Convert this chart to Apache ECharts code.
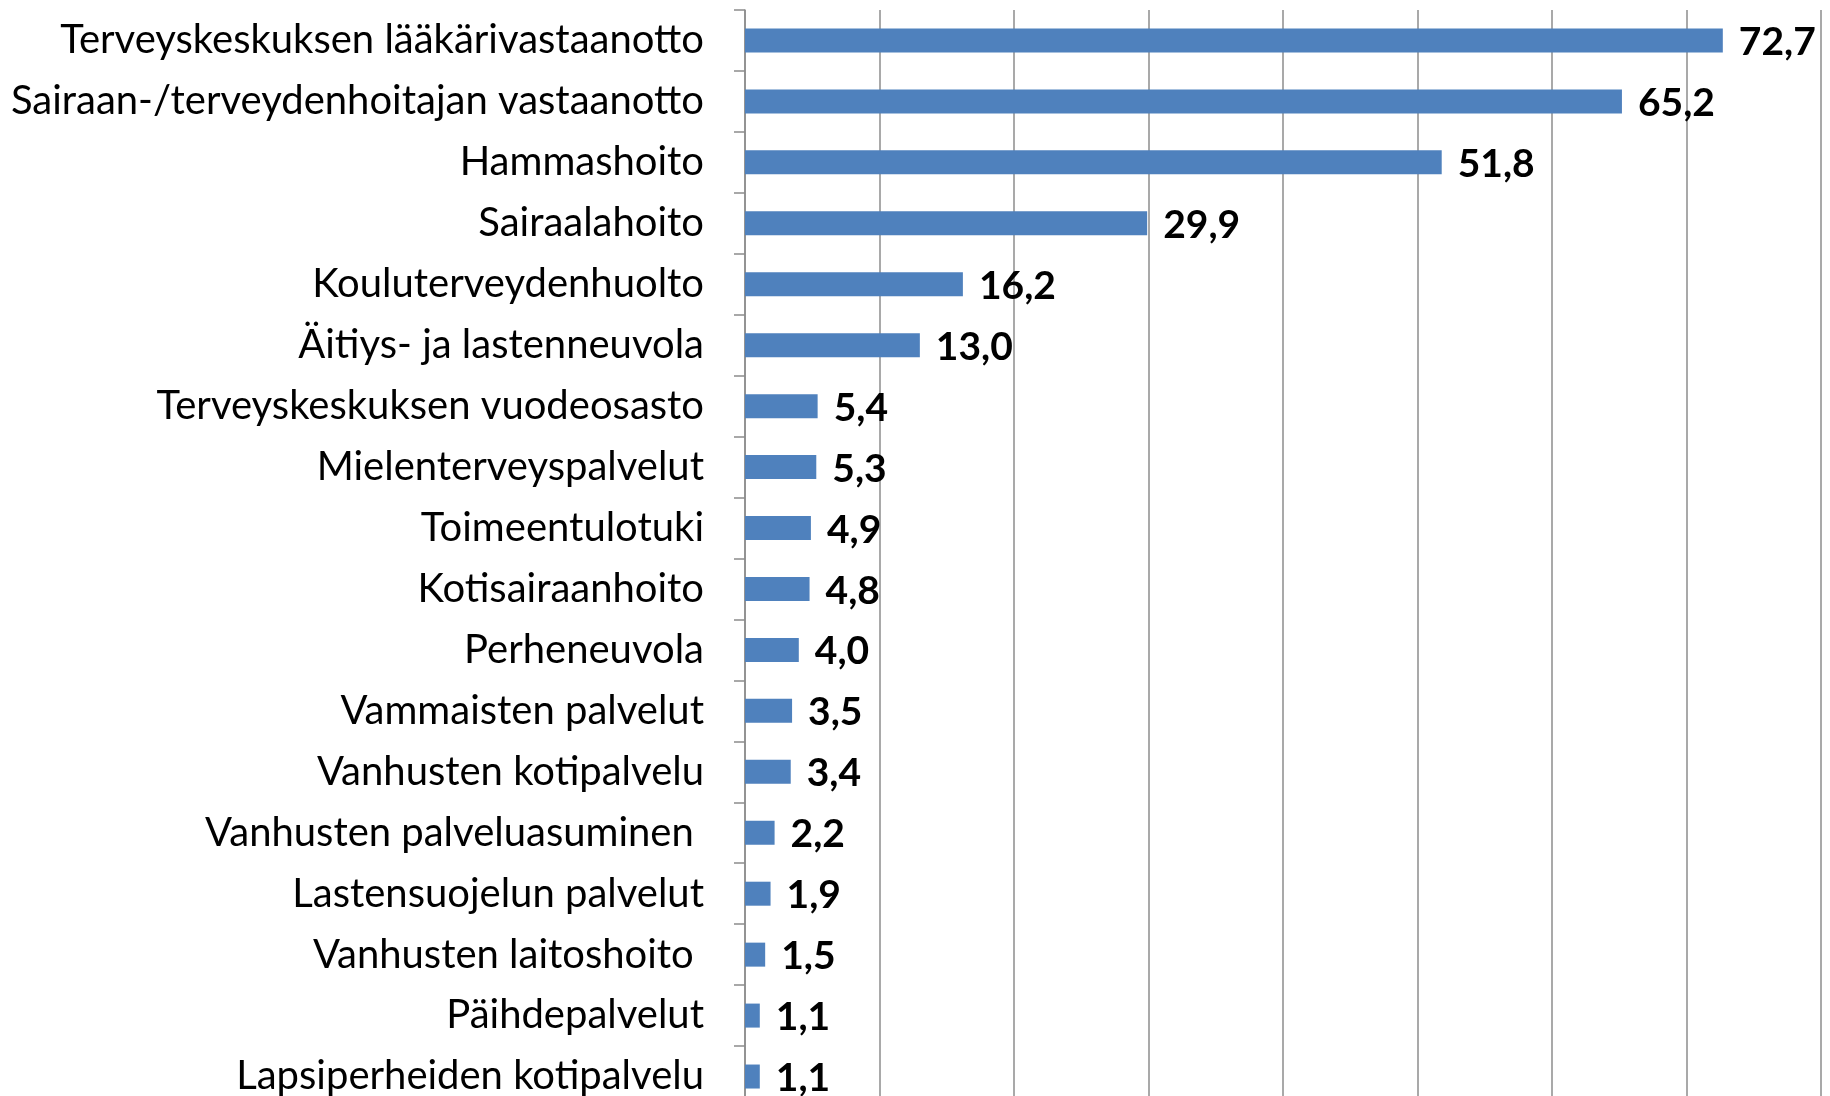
<!DOCTYPE html>
<html>
<head>
<meta charset="utf-8">
<script src="https://cdn.jsdelivr.net/npm/echarts@6/dist/echarts.min.js"></script>
<style>
  html, body { margin: 0; padding: 0; background: #fff; overflow: hidden; }
  /* kuvio jatkuu alareunan yli kuten alkuperäisessä */
  #chart { width: 1830px; height: 1107px; }
</style>
</head>
<body>
<div id="chart"></div>
<script>
var chart = echarts.init(document.getElementById('chart'));

// palvelut ylhäältä alas
var categories = [
    'Terveyskeskuksen lääkärivastaanotto',
    'Sairaan-/terveydenhoitajan vastaanotto',
    'Hammashoito',
    'Sairaalahoito',
    'Kouluterveydenhuolto',
    'Äitiys- ja lastenneuvola',
    'Terveyskeskuksen vuodeosasto',
    'Mielenterveyspalvelut',
    'Toimeentulotuki',
    'Kotisairaanhoito',
    'Perheneuvola',
    'Vammaisten palvelut',
    'Vanhusten kotipalvelu',
    'Vanhusten palveluasuminen ',
    'Lastensuojelun palvelut',
    'Vanhusten laitoshoito ',
    'Päihdepalvelut',
    'Lapsiperheiden kotipalvelu'
];
var values = [72.7, 65.2, 51.8, 29.9, 16.2, 13.0, 5.4, 5.3, 4.9, 4.8, 4.0, 3.5, 3.4, 2.2, 1.9, 1.5, 1.1, 1.1];

var option = {
    animation: false,
    grid: {
        left: 745,
        right: 9,
        top: 10,
        bottom: 0
    },
    xAxis: {
        type: 'value',
        min: 0,
        max: 80,
        interval: 10,
        axisLabel: { show: false },
        axisLine: { show: false },
        axisTick: { show: false },
        splitLine: {
            show: true,
            lineStyle: { color: '#8c8c8c', width: 1.5 }
        }
    },
    yAxis: {
        type: 'category',
        inverse: true,
        data: categories,
        axisLine: {
            show: true,
            lineStyle: { color: '#8c8c8c', width: 1.5 }
        },
        axisTick: {
            show: true,
            length: 11,
            lineStyle: { color: '#8c8c8c', width: 1.5 }
        },
        axisLabel: {
            margin: 41,
            fontFamily: 'Lato',
            fontSize: 40,
            color: '#000'
        }
    },
    series: [{
        type: 'bar',
        data: values,
        barWidth: 24,
        itemStyle: { color: '#4f81bd' },
        label: {
            show: true,
            position: 'right',
            distance: 16,
            offset: [0, 2],
            fontFamily: 'Lato',
            fontWeight: 'bold',
            fontSize: 39,
            color: '#000',
            formatter: function (p) {
                return p.value.toFixed(1).replace('.', ',');
            }
        }
    }]
};
chart.setOption(option);
</script>
</body>
</html>
